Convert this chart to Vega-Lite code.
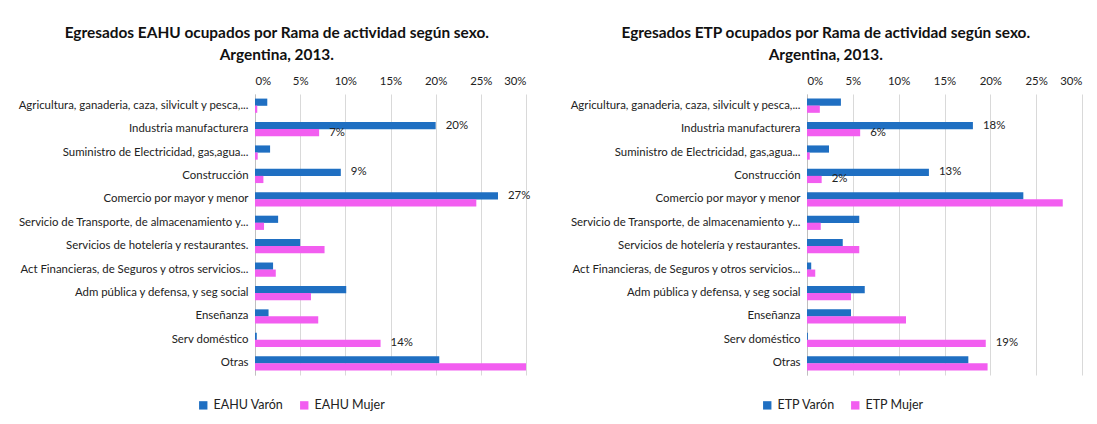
{
  "$schema": "https://vega.github.io/schema/vega-lite/v6.json",
  "background": "white",
  "padding": {"left": 17, "top": 25, "right": 5, "bottom": 5},
  "spacing": 33,
  "config": {
    "font": "Lato",
    "view": {"stroke": null},
    "axis": {"labelFont": "Lato", "labelFontSize": 11.4, "labelColor": "#222222", "title": null},
    "legend": {"labelFont": "Lato", "labelFontSize": 12.5, "labelColor": "#222222"},
    "title": {"font": "Lato", "fontSize": 15.4, "fontWeight": "bold", "color": "#111111"}
  },
  "datasets": {
    "eahu": [
      {"rama": "Agricultura, ganaderia, caza, silvicult y pesca,...", "sexo": "EAHU Varón", "valor": 0.0136, "label": ""},
      {"rama": "Agricultura, ganaderia, caza, silvicult y pesca,...", "sexo": "EAHU Mujer", "valor": 0.0025, "label": ""},
      {"rama": "Industria manufacturera", "sexo": "EAHU Varón", "valor": 0.200, "label": "20%"},
      {"rama": "Industria manufacturera", "sexo": "EAHU Mujer", "valor": 0.071, "label": "7%"},
      {"rama": "Suministro de Electricidad, gas,agua...", "sexo": "EAHU Varón", "valor": 0.0167, "label": ""},
      {"rama": "Suministro de Electricidad, gas,agua...", "sexo": "EAHU Mujer", "valor": 0.003, "label": ""},
      {"rama": "Construcción", "sexo": "EAHU Varón", "valor": 0.095, "label": "9%"},
      {"rama": "Construcción", "sexo": "EAHU Mujer", "valor": 0.0093, "label": ""},
      {"rama": "Comercio por mayor y menor", "sexo": "EAHU Varón", "valor": 0.269, "label": "27%"},
      {"rama": "Comercio por mayor y menor", "sexo": "EAHU Mujer", "valor": 0.245, "label": ""},
      {"rama": "Servicio de Transporte, de almacenamiento y...", "sexo": "EAHU Varón", "valor": 0.0256, "label": ""},
      {"rama": "Servicio de Transporte, de almacenamiento y...", "sexo": "EAHU Mujer", "valor": 0.010, "label": ""},
      {"rama": "Servicios de hotelería y restaurantes.", "sexo": "EAHU Varón", "valor": 0.050, "label": ""},
      {"rama": "Servicios de hotelería y restaurantes.", "sexo": "EAHU Mujer", "valor": 0.077, "label": ""},
      {"rama": "Act Financieras, de Seguros y otros servicios...", "sexo": "EAHU Varón", "valor": 0.020, "label": ""},
      {"rama": "Act Financieras, de Seguros y otros servicios...", "sexo": "EAHU Mujer", "valor": 0.023, "label": ""},
      {"rama": "Adm pública y defensa, y seg social", "sexo": "EAHU Varón", "valor": 0.101, "label": ""},
      {"rama": "Adm pública y defensa, y seg social", "sexo": "EAHU Mujer", "valor": 0.062, "label": ""},
      {"rama": "Enseñanza", "sexo": "EAHU Varón", "valor": 0.015, "label": ""},
      {"rama": "Enseñanza", "sexo": "EAHU Mujer", "valor": 0.070, "label": ""},
      {"rama": "Serv doméstico", "sexo": "EAHU Varón", "valor": 0.002, "label": ""},
      {"rama": "Serv doméstico", "sexo": "EAHU Mujer", "valor": 0.139, "label": "14%"},
      {"rama": "Otras", "sexo": "EAHU Varón", "valor": 0.204, "label": ""},
      {"rama": "Otras", "sexo": "EAHU Mujer", "valor": 0.300, "label": ""}
    ],
    "etp": [
      {"rama": "Agricultura, ganaderia, caza, silvicult y pesca,...", "sexo": "ETP Varón", "valor": 0.037, "label": ""},
      {"rama": "Agricultura, ganaderia, caza, silvicult y pesca,...", "sexo": "ETP Mujer", "valor": 0.014, "label": ""},
      {"rama": "Industria manufacturera", "sexo": "ETP Varón", "valor": 0.181, "label": "18%"},
      {"rama": "Industria manufacturera", "sexo": "ETP Mujer", "valor": 0.058, "label": "6%"},
      {"rama": "Suministro de Electricidad, gas,agua...", "sexo": "ETP Varón", "valor": 0.024, "label": ""},
      {"rama": "Suministro de Electricidad, gas,agua...", "sexo": "ETP Mujer", "valor": 0.003, "label": ""},
      {"rama": "Construcción", "sexo": "ETP Varón", "valor": 0.133, "label": "13%"},
      {"rama": "Construcción", "sexo": "ETP Mujer", "valor": 0.016, "label": "2%"},
      {"rama": "Comercio por mayor y menor", "sexo": "ETP Varón", "valor": 0.236, "label": ""},
      {"rama": "Comercio por mayor y menor", "sexo": "ETP Mujer", "valor": 0.279, "label": ""},
      {"rama": "Servicio de Transporte, de almacenamiento y...", "sexo": "ETP Varón", "valor": 0.057, "label": ""},
      {"rama": "Servicio de Transporte, de almacenamiento y...", "sexo": "ETP Mujer", "valor": 0.015, "label": ""},
      {"rama": "Servicios de hotelería y restaurantes.", "sexo": "ETP Varón", "valor": 0.039, "label": ""},
      {"rama": "Servicios de hotelería y restaurantes.", "sexo": "ETP Mujer", "valor": 0.057, "label": ""},
      {"rama": "Act Financieras, de Seguros y otros servicios...", "sexo": "ETP Varón", "valor": 0.0046, "label": ""},
      {"rama": "Act Financieras, de Seguros y otros servicios...", "sexo": "ETP Mujer", "valor": 0.009, "label": ""},
      {"rama": "Adm pública y defensa, y seg social", "sexo": "ETP Varón", "valor": 0.063, "label": ""},
      {"rama": "Adm pública y defensa, y seg social", "sexo": "ETP Mujer", "valor": 0.048, "label": ""},
      {"rama": "Enseñanza", "sexo": "ETP Varón", "valor": 0.048, "label": ""},
      {"rama": "Enseñanza", "sexo": "ETP Mujer", "valor": 0.108, "label": ""},
      {"rama": "Serv doméstico", "sexo": "ETP Varón", "valor": 0.001, "label": ""},
      {"rama": "Serv doméstico", "sexo": "ETP Mujer", "valor": 0.195, "label": "19%"},
      {"rama": "Otras", "sexo": "ETP Varón", "valor": 0.176, "label": ""},
      {"rama": "Otras", "sexo": "ETP Mujer", "valor": 0.197, "label": ""}
    ]
  },
  "resolve": {"scale": {"color": "independent", "y": "independent", "x": "independent", "yOffset": "independent"}},
  "hconcat": [
    {
      "data": {"name": "eahu"},
      "width": 271,
      "height": 281,
      "title": {"text": ["Egresados EAHU ocupados por Rama de actividad según sexo.", "Argentina, 2013."], "frame": "bounds", "anchor": "middle", "lineHeight": 22, "offset": 12},
      "encoding": {
        "y": {"field": "rama", "type": "nominal", "sort": null, "scale": {"paddingInner": 0.4, "paddingOuter": 0.2},
              "axis": {"ticks": false, "labelPadding": 7, "labelLimit": 320, "domainColor": "#bfbfbf", "grid": false}},
        "yOffset": {"field": "sexo", "type": "nominal", "sort": ["EAHU Varón", "EAHU Mujer"], "scale": {"paddingInner": 0, "paddingOuter": 0}},
        "x": {"field": "valor", "type": "quantitative", "scale": {"domain": [0, 0.3], "nice": false},
              "axis": {"orient": "top", "format": ".0%", "values": [0, 0.05, 0.1, 0.15, 0.2, 0.25, 0.3], "domain": false, "ticks": false, "labelPadding": 8, "gridColor": "#d9d9d9"}}
      },
      "layer": [
        {"mark": {"type": "bar", "height": 7.2},
         "encoding": {"color": {"field": "sexo", "type": "nominal", "sort": ["EAHU Varón", "EAHU Mujer"],
           "scale": {"domain": ["EAHU Varón", "EAHU Mujer"], "range": ["#1f6fc2", "#f25ef0"]},
           "legend": {"orient": "none", "legendX": -58, "legendY": 305, "direction": "horizontal", "title": null, "symbolType": "square", "symbolSize": 70, "columnPadding": 14}}}},
        {"mark": {"type": "text", "align": "left", "baseline": "middle", "dx": 10, "fontSize": 11.4, "color": "#222222"},
         "encoding": {"text": {"field": "label"}}}
      ]
    },
    {
      "data": {"name": "etp"},
      "width": 275,
      "height": 281,
      "title": {"text": ["Egresados ETP ocupados por Rama de actividad según sexo.", "Argentina, 2013."], "frame": "bounds", "anchor": "middle", "lineHeight": 22, "offset": 12},
      "encoding": {
        "y": {"field": "rama", "type": "nominal", "sort": null, "scale": {"paddingInner": 0.4, "paddingOuter": 0.2},
              "axis": {"ticks": false, "labelPadding": 7, "labelLimit": 320, "domainColor": "#bfbfbf", "grid": false}},
        "yOffset": {"field": "sexo", "type": "nominal", "sort": ["ETP Varón", "ETP Mujer"], "scale": {"paddingInner": 0, "paddingOuter": 0}},
        "x": {"field": "valor", "type": "quantitative", "scale": {"domain": [0, 0.3], "nice": false},
              "axis": {"orient": "top", "format": ".0%", "values": [0, 0.05, 0.1, 0.15, 0.2, 0.25, 0.3], "domain": false, "ticks": false, "labelPadding": 8, "gridColor": "#d9d9d9"}}
      },
      "layer": [
        {"mark": {"type": "bar", "height": 7.2},
         "encoding": {"color": {"field": "sexo", "type": "nominal", "sort": ["ETP Varón", "ETP Mujer"],
           "scale": {"domain": ["ETP Varón", "ETP Mujer"], "range": ["#1f6fc2", "#f25ef0"]},
           "legend": {"orient": "none", "legendX": -46, "legendY": 305, "direction": "horizontal", "title": null, "symbolType": "square", "symbolSize": 70, "columnPadding": 14}}}},
        {"mark": {"type": "text", "align": "left", "baseline": "middle", "dx": 10, "fontSize": 11.4, "color": "#222222"},
         "encoding": {"text": {"field": "label"}}}
      ]
    }
  ]
}
